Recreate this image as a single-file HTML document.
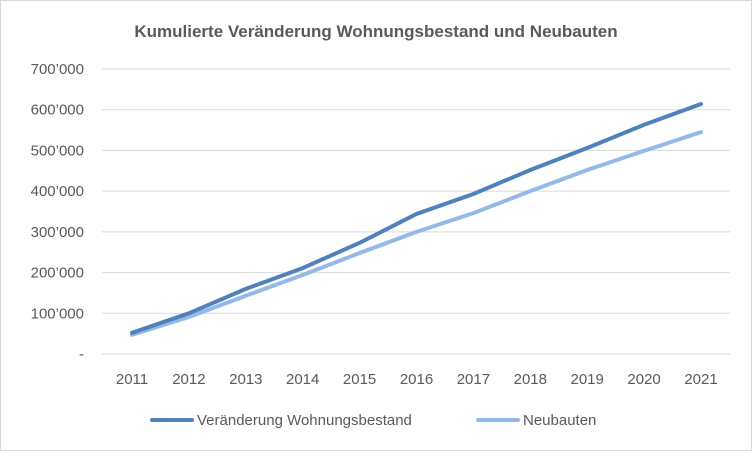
<!DOCTYPE html>
<html><head><meta charset="utf-8"><style>
body{margin:0;background:#fff}
svg{display:block;font-family:"Liberation Sans",sans-serif}
</style></head><body>
<svg id="chart" width="752" height="451">
<rect x="0.5" y="0.5" width="751" height="450" fill="#fff" stroke="#d9d9d9"/>
<text x="376" y="37" text-anchor="middle" font-size="17" font-weight="bold" fill="#595959">Kumulierte Veränderung Wohnungsbestand und Neubauten</text>
<g id="grid"></g><g id="yticks"></g><g id="xticks"></g><g id="lines"></g>
<g>
<line x1="152" y1="420" x2="192" y2="420" stroke="#4f81bd" stroke-width="4" stroke-linecap="round"/>
<text x="197" y="425" font-size="15" fill="#595959">Veränderung Wohnungsbestand</text>
<line x1="478" y1="420" x2="518" y2="420" stroke="#95b9e6" stroke-width="4" stroke-linecap="round"/>
<text x="523" y="425" font-size="15" fill="#595959">Neubauten</text>
</g>
</svg>
<script>
const years=[2011,2012,2013,2014,2015,2016,2017,2018,2019,2020,2021];
const bestand=[52000,100000,160000,211000,273000,344000,393000,452000,506000,563000,614000];
const neubauten=[47000,91000,143000,194000,248000,300000,346000,400000,452000,499000,545000];
const yTickLabels=["-","100’000","200’000","300’000","400’000","500’000","600’000","700’000"];
const yTickValues=[0,100000,200000,300000,400000,500000,600000,700000];
const NS="http://www.w3.org/2000/svg";
const y=v=>354-v*(354-69)/700000;
const x=i=>132+i*(701-132)/(years.length-1);
function mk(t,a,p){const e=document.createElementNS(NS,t);for(const k in a)e.setAttribute(k,a[k]);document.getElementById(p).appendChild(e);return e;}
yTickValues.forEach((v,i)=>{
 const g=mk('line',{x1:102,x2:730,y1:y(v),y2:y(v),stroke:'#d9d9d9','stroke-width':1},'grid');
 
 
 const t=mk('text',{x:84,y:y(v)+5,'text-anchor':'end','font-size':15,fill:'#595959'},'yticks');
 t.textContent=yTickLabels[i];
 
 
});
years.forEach((yr,i)=>{
 const t=mk('text',{x:x(i),y:384,'text-anchor':'middle','font-size':15,fill:'#595959'},'xticks');
 t.textContent=yr;
 
 
});
function line(data,color,name){
 const p=mk('polyline',{points:data.map((v,i)=>x(i)+','+y(v)).join(' '),fill:'none',stroke:color,'stroke-width':4,'stroke-linecap':'round','stroke-linejoin':'round'},'lines');
 
 
}
line(neubauten,'#95b9e6','line-neubauten');
line(bestand,'#4f81bd','line-bestand');
</script>
</body></html>
